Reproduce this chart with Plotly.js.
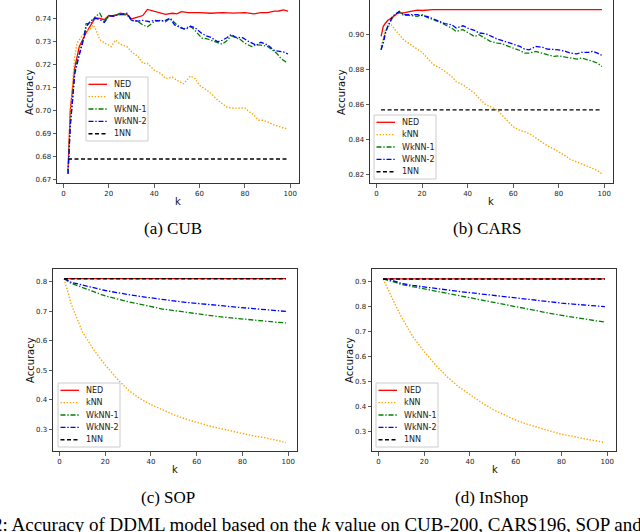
<!DOCTYPE html>
<html>
<head>
<meta charset="utf-8">
<script src="https://cdn.plot.ly/plotly-3.0.1.min.js"></script>
<style>
  html, body { margin: 0; padding: 0; background: #fff; }
  #chart { width: 640px; height: 532px; }
</style>
</head>
<body>
<div id="chart"></div>
<script>
// ---- data ----
const seriesNames = ['NED', 'kNN', 'WkNN-1', 'WkNN-2', '1NN'];
const kTicks = [0, 20, 40, 60, 80, 100];

// (a) CUB
const cubNedK = [2,3,5,7,10,12,14,16,18,20,22,25,28,30,33,35,37,40,43,45,48,50,52,55,60,65,70,75,80,84,87,90,93,95,97,99];
const cubNed = [0.6738,0.700,0.719,0.728,0.734,0.737,0.7405,0.7403,0.7397,0.7415,0.7412,0.7425,0.742,0.740,0.741,0.7415,0.7442,0.7435,0.7428,0.742,0.7425,0.7422,0.7432,0.7428,0.7428,0.7425,0.7428,0.7426,0.7428,0.7422,0.7428,0.7428,0.7434,0.7435,0.744,0.7434];
const cubKnnK = [2,3,4,5,6,8,10,12,13,14,16,18,20,21,23,25,28,30,33,35,37,40,43,45,48,50,53,56,58,60,63,65,68,70,72,75,78,80,82,84,86,88,90,93,95,97,99];
const cubKnn = [0.673,0.697,0.712,0.7235,0.7295,0.7323,0.7345,0.736,0.7374,0.736,0.731,0.7295,0.7286,0.7279,0.7308,0.729,0.7279,0.7257,0.7235,0.7206,0.7206,0.7176,0.7161,0.714,0.7146,0.7132,0.7117,0.7151,0.714,0.711,0.709,0.7075,0.7045,0.703,0.7015,0.701,0.7011,0.7011,0.6994,0.698,0.6958,0.6957,0.695,0.6936,0.6931,0.6923,0.692];
const cubW1K = [2,3,4,5,7,9,10,12,14,16,18,20,22,25,28,30,33,35,37,40,43,45,47,50,53,56,58,61,63,65,68,70,72,74,76,78,80,83,85,87,90,93,94,96,98,99];
const cubW1 = [0.6723,0.6943,0.7045,0.7177,0.725,0.7323,0.738,0.738,0.741,0.7425,0.7388,0.7414,0.7416,0.742,0.7418,0.7394,0.7388,0.7374,0.7366,0.7388,0.7394,0.7388,0.7403,0.7374,0.7357,0.7368,0.735,0.7316,0.7314,0.7307,0.7294,0.729,0.7305,0.7327,0.7318,0.731,0.7294,0.7279,0.7287,0.7286,0.728,0.7255,0.725,0.7226,0.7213,0.7212];
const cubW2K = [2,3,4,5,7,9,10,12,14,16,18,20,22,25,28,30,33,35,38,40,43,45,47,49,52,54,56,58,61,63,65,68,70,72,74,76,79,81,83,85,87,90,93,95,97,99];
const cubW2 = [0.6723,0.6928,0.7045,0.7162,0.7243,0.7316,0.7366,0.7392,0.7403,0.7398,0.7385,0.7413,0.7413,0.742,0.7425,0.7394,0.7391,0.7394,0.7388,0.7394,0.7391,0.7394,0.7403,0.7374,0.736,0.7355,0.7368,0.7362,0.7337,0.7326,0.732,0.73,0.7307,0.7318,0.7332,0.732,0.7318,0.7305,0.7296,0.7285,0.7298,0.7287,0.7262,0.7258,0.7256,0.7247];
const cubOneK = [2, 99];
const cubOne = [0.6788, 0.6788];
const cubTicks = [0.67,0.68,0.69,0.70,0.71,0.72,0.73,0.74];

// (b) CARS
const carsNedK = [2,3,4,5,7,9,10,12,15,18,20,25,30,40,50,55,60,70,80,90,99];
const carsNed = [0.899,0.9048,0.9067,0.9082,0.910,0.912,0.9124,0.9124,0.9133,0.914,0.9138,0.9143,0.9143,0.9143,0.9141,0.9139,0.9141,0.9142,0.9142,0.9143,0.9143];
const carsKnnK = [2,3,4,6,7,8,10,12,15,18,20,23,25,28,30,33,35,38,40,43,45,48,50,53,55,58,60,63,65,68,70,73,75,78,80,83,85,88,90,93,95,97,99];
const carsKnn = [0.8933,0.898,0.9029,0.9057,0.9052,0.903,0.900,0.897,0.8943,0.8918,0.890,0.8857,0.8829,0.881,0.879,0.8762,0.8733,0.8714,0.8695,0.8667,0.8638,0.860,0.859,0.857,0.8543,0.8505,0.8476,0.8453,0.8448,0.8429,0.841,0.838,0.8366,0.8347,0.8333,0.8309,0.829,0.8276,0.8263,0.8248,0.8238,0.8225,0.8206];
const carsW1K = [2,3,4,5,7,9,10,12,15,18,20,22,25,28,30,33,35,38,40,43,45,48,50,53,55,58,60,63,65,67,70,73,75,78,80,83,85,88,90,93,95,97,99];
const carsW1 = [0.8914,0.8971,0.9019,0.9048,0.9095,0.9124,0.9128,0.911,0.911,0.9105,0.9114,0.910,0.9086,0.907,0.9057,0.9038,0.9019,0.9029,0.9013,0.899,0.900,0.8975,0.8962,0.8952,0.8949,0.8933,0.8924,0.891,0.8895,0.8895,0.8905,0.8891,0.8886,0.8876,0.888,0.8872,0.8867,0.8861,0.8867,0.8857,0.8848,0.8838,0.8819];
const carsW2K = [2,3,4,5,7,9,10,12,15,18,20,22,25,28,30,33,35,38,40,43,45,48,50,53,55,58,60,63,65,67,70,73,75,78,80,83,85,88,90,93,95,97,99];
const carsW2 = [0.8914,0.8952,0.901,0.9048,0.9105,0.9124,0.9133,0.9114,0.9114,0.9114,0.9109,0.9105,0.909,0.9076,0.9063,0.9057,0.9038,0.9051,0.9038,0.9025,0.901,0.9006,0.8994,0.8975,0.8968,0.8956,0.8949,0.8933,0.8918,0.8914,0.8933,0.8928,0.8918,0.8914,0.8914,0.8905,0.8895,0.8891,0.8899,0.8899,0.8905,0.8895,0.8882];
const carsOneK = [2, 99];
const carsOne = [0.8571, 0.8571];
const carsTicks = [0.82,0.84,0.86,0.88,0.90];

// (c) SOP
const sopK = [2,3,5,7,10,15,20,25,30,35,40,45,50,55,60,65,70,75,80,85,90,95,99];
const sopNed = [0.811,0.811,0.811,0.811,0.811,0.811,0.811,0.811,0.811,0.811,0.811,0.811,0.811,0.811,0.811,0.811,0.811,0.811,0.811,0.811,0.811,0.811,0.811];
const sopKnn = [0.811,0.784,0.728,0.688,0.631,0.569,0.518,0.473,0.433,0.405,0.383,0.366,0.349,0.335,0.323,0.312,0.303,0.294,0.286,0.277,0.271,0.262,0.255];
const sopW1 = [0.811,0.806,0.7955,0.790,0.782,0.767,0.7525,0.742,0.733,0.725,0.716,0.708,0.703,0.697,0.693,0.687,0.682,0.678,0.673,0.670,0.6665,0.663,0.661];
const sopW2 = [0.811,0.808,0.799,0.795,0.790,0.7785,0.771,0.764,0.757,0.751,0.746,0.740,0.7355,0.731,0.7265,0.723,0.720,0.716,0.713,0.7095,0.706,0.703,0.700];
const sopOne = [0.811,0.811,0.811,0.811,0.811,0.811,0.811,0.811,0.811,0.811,0.811,0.811,0.811,0.811,0.811,0.811,0.811,0.811,0.811,0.811,0.811,0.811,0.811];
const sopTicks = [0.3,0.4,0.5,0.6,0.7,0.8];

// (d) InShop
const shopK = [2,3,5,7,10,15,20,25,30,35,40,45,50,55,60,65,70,75,80,85,90,95,99];
const shopNed = [0.911,0.911,0.911,0.911,0.911,0.911,0.911,0.911,0.911,0.911,0.911,0.911,0.911,0.911,0.911,0.911,0.911,0.911,0.911,0.911,0.911,0.911,0.911];
const shopKnn = [0.911,0.893,0.853,0.813,0.759,0.679,0.619,0.565,0.518,0.478,0.445,0.415,0.387,0.364,0.344,0.328,0.313,0.300,0.288,0.277,0.269,0.261,0.254];
const shopW1 = [0.911,0.909,0.904,0.898,0.889,0.880,0.8705,0.861,0.852,0.8424,0.833,0.825,0.8156,0.8076,0.798,0.790,0.782,0.773,0.765,0.757,0.750,0.743,0.738];
const shopW2 = [0.911,0.910,0.907,0.902,0.893,0.885,0.8786,0.872,0.8665,0.861,0.856,0.850,0.845,0.840,0.835,0.829,0.824,0.820,0.814,0.810,0.806,0.802,0.800];
const shopOne = [0.911,0.911,0.911,0.911,0.911,0.911,0.911,0.911,0.911,0.911,0.911,0.911,0.911,0.911,0.911,0.911,0.911,0.911,0.911,0.911,0.911,0.911,0.911];
const shopTicks = [0.3,0.4,0.5,0.6,0.7,0.8,0.9];

const panelCaptions = ['(a) CUB', '(b) CARS', '(c) SOP', '(d) InShop'];

// ---- styling ----
const W = 640, H = 532;
const px = x => x / W;
const py = y => 1 - y / H;

const styles = [
    { color: '#ff0000', dash: 'solid', width: 1.3 },
    { color: '#ffa500', dash: '1.4px,1.7px', width: 1.4 },
    { color: '#008000', dash: '5px,1.8px,1.4px,1.8px', width: 1.3 },
    { color: '#0000ff', dash: '5px,1.8px,1.4px,1.8px', width: 1.3 },
    { color: '#000000', dash: '4px,2.5px', width: 1.4 }
];

const tickFont = { family: 'DejaVu Sans', size: 7, color: '#222' };
const labelFont = { family: 'DejaVu Sans', size: 10, color: '#111' };

let traces = [];
function addSeries(axisIdx, xs, ys) {
    xs.forEach((x, i) => {
        const s = styles[i];
        traces.push({
            x: x, y: ys[i], mode: 'lines', name: seriesNames[i],
            xaxis: 'x' + (axisIdx === 1 ? '' : axisIdx),
            yaxis: 'y' + (axisIdx === 1 ? '' : axisIdx),
            line: { color: s.color, width: s.width, dash: s.dash },
            showlegend: false, hoverinfo: 'skip'
        });
    });
}

addSeries(1, [cubNedK, cubKnnK, cubW1K, cubW2K, cubOneK], [cubNed, cubKnn, cubW1, cubW2, cubOne]);
addSeries(2, [carsNedK, carsKnnK, carsW1K, carsW2K, carsOneK], [carsNed, carsKnn, carsW1, carsW2, carsOne]);
addSeries(3, [sopK, sopK, sopK, sopK, sopK], [sopNed, sopKnn, sopW1, sopW2, sopOne]);
addSeries(4, [shopK, shopK, shopK, shopK, shopK], [shopNed, shopKnn, shopW1, shopW2, shopOne]);

function axisBase() {
    return {
        showline: true, mirror: true, linecolor: '#333', linewidth: 1,
        ticks: 'outside', ticklen: 3.5, tickwidth: 0.8, tickcolor: '#333',
        showgrid: false, zeroline: false, tickfont: tickFont, fixedrange: true
    };
}

function xAxis(left, right, anchor) {
    return Object.assign(axisBase(), {
        domain: [px(left), px(right)], range: [-2.85, 103.85],
        tickvals: kTicks, anchor: anchor
    });
}

function yAxis(top, bottom, range, ticks, fmt, anchor) {
    return Object.assign(axisBase(), {
        domain: [py(bottom), py(top)], range: range,
        tickvals: ticks, tickformat: fmt, anchor: anchor
    });
}

let shapes = [];
let annotations = [];

// matplotlib-like legend box
function addLegend(left, top) {
    const width = 62, height = 64;
    shapes.push({
        type: 'rect', xref: 'paper', yref: 'paper',
        x0: px(left), x1: px(left + width), y0: py(top + height), y1: py(top),
        line: { color: '#cccccc', width: 1 }, fillcolor: 'rgba(255,255,255,0.85)'
    });
    seriesNames.forEach((name, i) => {
        const s = styles[i];
        const yy = top + 7.3 + i * 12.35;
        shapes.push({
            type: 'line', xref: 'paper', yref: 'paper',
            x0: px(left + 2.5), x1: px(left + 21), y0: py(yy), y1: py(yy),
            line: { color: s.color, width: s.width, dash: s.dash }
        });
        annotations.push({
            xref: 'paper', yref: 'paper', x: px(left + 26), y: py(yy),
            xanchor: 'left', yanchor: 'middle', showarrow: false,
            text: name, font: { family: 'DejaVu Sans', size: 8, color: '#222' }
        });
    });
}

addLegend(86, 77);
addLegend(374, 115);
addLegend(58, 383);
addLegend(376, 383);

function addText(x, y, text, font, angle) {
    annotations.push({
        xref: 'paper', yref: 'paper', x: px(x), y: py(y),
        xanchor: 'center', yanchor: 'middle', showarrow: false,
        text: text, font: font, textangle: angle || 0
    });
}

// axis labels
addText(30, 92, 'Accuracy', labelFont, -90);
addText(178, 201, 'k', labelFont);
addText(342, 92, 'Accuracy', labelFont, -90);
addText(491, 201, 'k', labelFont);
addText(30, 360, 'Accuracy', labelFont, -90);
addText(175, 469, 'k', labelFont);
addText(349, 360, 'Accuracy', labelFont, -90);
addText(495, 469, 'k', labelFont);

// captions
const capFont = { family: 'Liberation Serif', size: 17, color: '#000' };
addText(173, 228, panelCaptions[0], capFont);
addText(487, 228, panelCaptions[1], capFont);
addText(168, 497, panelCaptions[2], capFont);
addText(491, 497, panelCaptions[3], capFont);
annotations.push({
    xref: 'paper', yref: 'paper', x: px(-9), y: py(524),
    xanchor: 'left', yanchor: 'middle', showarrow: false,
    text: '2: Accuracy of DDML model based on the <i>k</i> value on CUB-200, CARS196, SOP and',
    font: { family: 'Liberation Serif', size: 19, color: '#000' }
});

const layout = {
    width: W, height: H,
    margin: { l: 0, r: 0, t: 0, b: 0 },
    paper_bgcolor: '#fff', plot_bgcolor: '#fff',
    showlegend: false,
    xaxis: xAxis(57, 299, 'y'),
    yaxis: yAxis(0, 183, [0.6683, 0.7483], cubTicks, '.2f', 'x'),
    xaxis2: xAxis(370, 613, 'y2'),
    yaxis2: yAxis(0, 183, [0.8154, 0.9198], carsTicks, '.2f', 'x2'),
    xaxis3: xAxis(53, 297, 'y3'),
    yaxis3: yAxis(269, 451, [0.226, 0.844], sopTicks, '.1f', 'x3'),
    xaxis4: xAxis(372, 616, 'y4'),
    yaxis4: yAxis(269, 451, [0.22, 0.951], shopTicks, '.1f', 'x4'),
    shapes: shapes,
    annotations: annotations
};

Plotly.newPlot('chart', traces, layout, { displayModeBar: false, staticPlot: true });
</script>
</body>
</html>
